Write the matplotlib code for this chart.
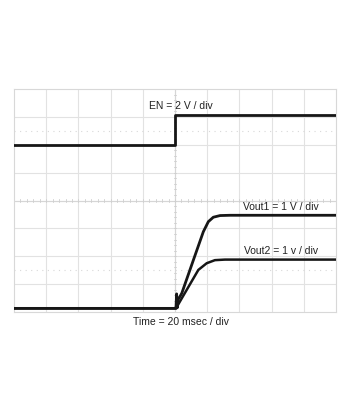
import matplotlib.pyplot as plt

plt.rcParams["font.family"] = ["Liberation Sans", "DejaVu Sans"]

# time in ms (20 ms/div), levels in scope divisions
en_t = [0, 100, 100, 200]
en_v = [5.99, 5.99, 7.07, 7.07]

vout1_t = [0, 100.6, 101.0, 101.4, 102.0, 104.2, 111.4, 117.6, 120.7, 123.8, 128.0, 134.2, 200]
vout1_v = [0.13, 0.13, 0.65, 0.15, 0.45, 0.67, 1.86, 2.88, 3.24, 3.40, 3.46, 3.47, 3.47]

vout2_t = [0, 100.6, 104.2, 114.5, 119.7, 124.8, 131.0, 200]
vout2_v = [0.13, 0.13, 0.49, 1.51, 1.75, 1.86, 1.88, 1.88]

cursor_levels = [6.5, 1.5]

fig = plt.figure(figsize=(3.4, 4.08), dpi=100)
ax = fig.add_axes([14 / 340, 96 / 408, 322 / 340, 223 / 408])
ax.set_xlim(0, 200)
ax.set_ylim(0, 8)

grid_c = "#e2e2e2"
for x in range(20, 200, 20):
    ax.axvline(x, color=grid_c, lw=0.8, zorder=0)
for y in range(1, 8):
    ax.axhline(y, color=grid_c, lw=0.8, zorder=0)
for y in cursor_levels:
    ax.axhline(y, color="#d8d8d8", lw=0.8, ls=(0, (1, 4)), zorder=0)

# center cross with small ticks
ax.axhline(4, color="#d6d6d6", lw=0.8, zorder=0)
ax.axvline(100, color="#d6d6d6", lw=0.8, zorder=0)
for i in range(1, 50):
    x = i * 4
    ax.plot([x, x], [3.96, 4.04], color="#d0d0d0", lw=0.6, zorder=0)
for i in range(1, 40):
    y = i * 0.2
    ax.plot([99.5, 100.5], [y, y], color="#d0d0d0", lw=0.6, zorder=0)

for s in ax.spines.values():
    s.set_color("#d8d8d8")
    s.set_linewidth(0.8)
ax.set_xticks([])
ax.set_yticks([])

trace_c = "#161616"
ax.plot(en_t, en_v, color=trace_c, lw=2.0, zorder=3)
ax.plot(vout1_t, vout1_v, color=trace_c, lw=2.0, zorder=3)
ax.plot(vout2_t, vout2_v, color=trace_c, lw=1.8, zorder=3)

fs = 7.5
ax.text(83.9, 7.28, "EN = 2 V / div", fontsize=fs, va="baseline", ha="left", color="#222222")
ax.text(142.4, 3.77, "Vout1 = 1 V / div", fontsize=fs, va="center", ha="left", color="#222222")
ax.text(143.0, 2.20, "Vout2 = 1 v / div", fontsize=fs, va="center", ha="left", color="#222222")
ax.text(74.1, -0.35, "Time = 20 msec / div", fontsize=fs, va="center", ha="left",
        color="#222222", clip_on=False)

fig.savefig("out.png", dpi=100)
